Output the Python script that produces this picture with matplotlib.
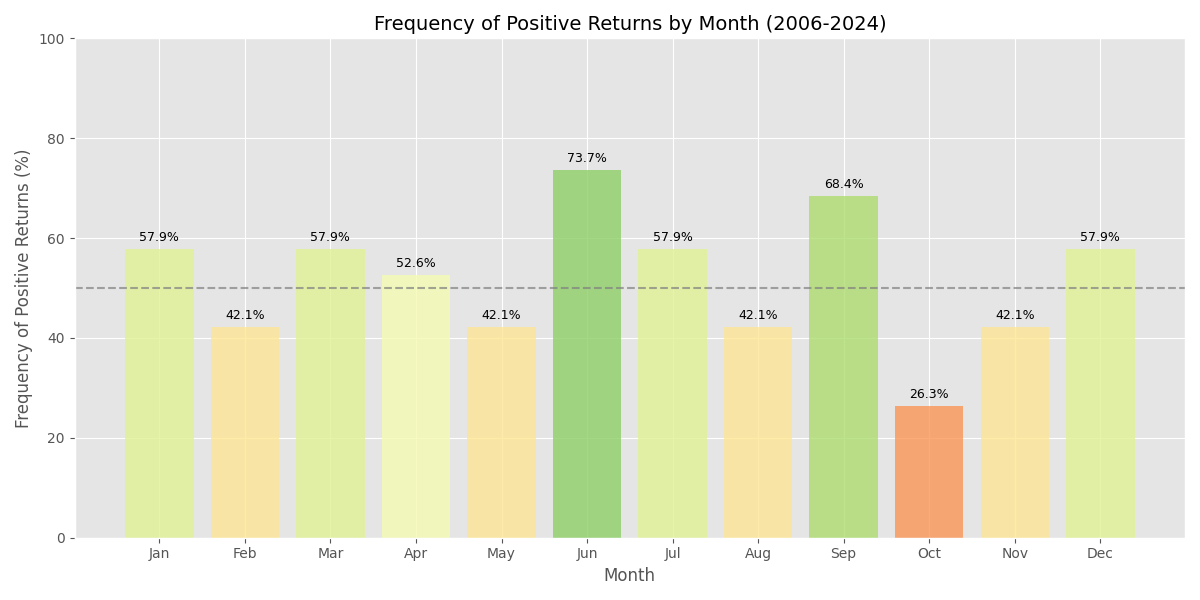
import matplotlib
matplotlib.use("Agg")
import matplotlib.pyplot as plt
import numpy as np

plt.style.use("ggplot")

months = ["Jan", "Feb", "Mar", "Apr", "May", "Jun", "Jul", "Aug", "Sep", "Oct", "Nov", "Dec"]
freq = [57.9, 42.1, 57.9, 52.6, 42.1, 73.7, 57.9, 42.1, 68.4, 26.3, 42.1, 57.9]

fig, ax = plt.subplots(figsize=(12, 6), dpi=100)
cmap = plt.get_cmap("RdYlGn")
colors = [cmap(v / 100) for v in freq]
bars = ax.bar(months, freq, color=colors, alpha=0.8)
ax.axhline(50, color="gray", linestyle="--", alpha=0.7)
for b, v in zip(bars, freq):
    ax.text(b.get_x() + b.get_width() / 2, v + 1, f"{v:.1f}%", ha="center", va="bottom", fontsize=9)
ax.set_ylim(0, 100)
ax.set_title("Frequency of Positive Returns by Month (2006-2024)", fontsize=14)
ax.set_xlabel("Month")
ax.set_ylabel("Frequency of Positive Returns (%)")
plt.tight_layout()
plt.savefig("out.png")
